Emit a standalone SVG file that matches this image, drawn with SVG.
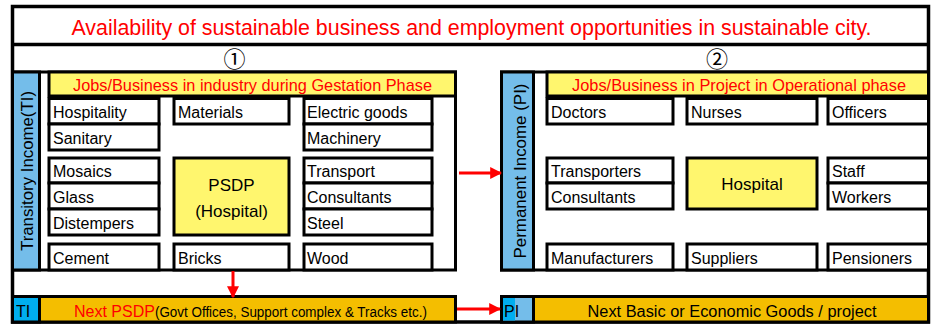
<svg xmlns="http://www.w3.org/2000/svg" width="933" height="327" viewBox="0 0 933 327">
  <defs>
    <style>
      text { font-family: "Liberation Sans", Arial, sans-serif; fill: #000; }
      .frame { fill: #fff; stroke: #000; stroke-width: 3.5; }
      .panel { fill: #fff; stroke: #000; stroke-width: 3; }
      .cell { fill: #fff; stroke: #000; stroke-width: 3; }
      .core { fill: #FFF66E; stroke: #000; stroke-width: 3; }
      .head { fill: #FFF66E; stroke: #000; stroke-width: 3; }
      .side { fill: #74BDEA; stroke: #000; stroke-width: 3; }
      .bar { fill: #F4BE00; stroke: #000; stroke-width: 3; }
      .tag { fill: #00AEEF; stroke: #000; stroke-width: 3; }
      .lbl { font-size: 16px; }
      .red { fill: #FF0000; }
      .num { font-family: "Noto Sans CJK JP", "DejaVu Sans", sans-serif; font-size: 22px; }
      .arrow { stroke: #FF0000; stroke-width: 3; fill: none; marker-end: url(#ah); }
    </style>
    <marker id="ah" viewBox="0 0 10 10" refX="9" refY="5" markerWidth="4" markerHeight="4" orient="auto" markerUnits="strokeWidth">
      <path d="M0,0 L10,5 L0,10 z" fill="#FF0000"/>
    </marker>
  </defs>

  <!-- outer frame and title band -->
  <g id="frame">
    <rect class="frame" x="12.5" y="6.5" width="916" height="315.5"/>
    <line x1="12.5" y1="44.5" x2="928.5" y2="44.5" stroke="#000" stroke-width="3.5"/>
    <text x="471.5" y="35" text-anchor="middle" font-size="22" class="red" textLength="800" lengthAdjust="spacingAndGlyphs">Availability of sustainable business and employment opportunities in sustainable city.</text>
    <text class="num" x="234.5" y="67" text-anchor="middle">①</text>
    <text class="num" x="717" y="67" text-anchor="middle">②</text>
  </g>

  <!-- gestation phase panel -->
  <g id="gestation">
    <rect class="panel" x="12.5" y="72" width="443" height="198"/>
    <rect class="side" x="12.5" y="72" width="27" height="198"/>
    <text class="lbl" transform="translate(33.3,171) rotate(-90)" text-anchor="middle" textLength="160" lengthAdjust="spacingAndGlyphs">Transitory Income(TI)</text>
    <rect class="head" x="49" y="72" width="406.5" height="24"/>
    <text x="252.5" y="91" font-size="17" class="red" text-anchor="middle" textLength="359" lengthAdjust="spacingAndGlyphs">Jobs/Business in industry during Gestation Phase</text>
  </g>

  <g id="g-hospitality"><rect class="cell" x="49" y="98.5" width="110" height="25.5"/><text class="lbl" x="53" y="118">Hospitality</text></g>
  <g id="g-sanitary"><rect class="cell" x="49" y="124" width="110" height="26"/><text class="lbl" x="53" y="144">Sanitary</text></g>
  <g id="g-materials"><rect class="cell" x="174" y="98.5" width="115" height="25.5"/><text class="lbl" x="178" y="118">Materials</text></g>
  <g id="g-electric"><rect class="cell" x="304" y="98.5" width="128" height="25.5"/><text class="lbl" x="307" y="118">Electric goods</text></g>
  <g id="g-machinery"><rect class="cell" x="304" y="124" width="128" height="26"/><text class="lbl" x="307" y="144">Machinery</text></g>

  <g id="g-mosaics"><rect class="cell" x="49" y="158" width="110" height="25"/><text class="lbl" x="53" y="177">Mosaics</text></g>
  <g id="g-glass"><rect class="cell" x="49" y="183" width="110" height="26"/><text class="lbl" x="53" y="203">Glass</text></g>
  <g id="g-distempers"><rect class="cell" x="49" y="209" width="110" height="26"/><text class="lbl" x="53" y="229">Distempers</text></g>
  <g id="g-psdp">
    <rect class="core" x="174" y="158" width="115" height="77"/>
    <text x="231.5" y="191" font-size="17" text-anchor="middle">PSDP</text>
    <text x="231.5" y="217" font-size="17" text-anchor="middle">(Hospital)</text>
  </g>
  <g id="g-transport"><rect class="cell" x="304" y="158" width="128" height="25"/><text class="lbl" x="307" y="177">Transport</text></g>
  <g id="g-consultants"><rect class="cell" x="304" y="183" width="128" height="26"/><text class="lbl" x="307" y="203">Consultants</text></g>
  <g id="g-steel"><rect class="cell" x="304" y="209" width="128" height="26"/><text class="lbl" x="307" y="229">Steel</text></g>

  <g id="g-cement"><rect class="cell" x="49" y="244" width="110" height="26"/><text class="lbl" x="53" y="264">Cement</text></g>
  <g id="g-bricks"><rect class="cell" x="174" y="244" width="115" height="26"/><text class="lbl" x="178" y="264">Bricks</text></g>
  <g id="g-wood"><rect class="cell" x="304" y="244" width="128" height="26"/><text class="lbl" x="307" y="264">Wood</text></g>

  <!-- operational phase panel -->
  <g id="operational">
    <rect class="panel" x="501.5" y="72" width="427" height="198"/>
    <rect class="side" x="501.5" y="72" width="32" height="198"/>
    <text class="lbl" transform="translate(526,171) rotate(-90)" text-anchor="middle" textLength="175" lengthAdjust="spacingAndGlyphs">Permanent Income (PI)</text>
    <rect class="head" x="547" y="72" width="381.5" height="24"/>
    <text x="739" y="91" font-size="17" class="red" text-anchor="middle" textLength="334" lengthAdjust="spacingAndGlyphs">Jobs/Business in Project in Operational phase</text>
  </g>

  <g id="o-doctors"><rect class="cell" x="547" y="98.5" width="126" height="25.5"/><text class="lbl" x="551" y="118">Doctors</text></g>
  <g id="o-nurses"><rect class="cell" x="687" y="98.5" width="130" height="25.5"/><text class="lbl" x="691" y="118">Nurses</text></g>
  <g id="o-officers"><rect class="cell" x="828" y="98.5" width="100.5" height="25.5"/><text class="lbl" x="832" y="118">Officers</text></g>

  <g id="o-transporters"><rect class="cell" x="547" y="158" width="126" height="25"/><text class="lbl" x="551" y="177">Transporters</text></g>
  <g id="o-consultants"><rect class="cell" x="547" y="183" width="126" height="26"/><text class="lbl" x="551" y="203">Consultants</text></g>
  <g id="o-hospital">
    <rect class="core" x="687" y="158" width="130" height="51"/>
    <text x="752" y="190" font-size="17" text-anchor="middle">Hospital</text>
  </g>
  <g id="o-staff"><rect class="cell" x="828" y="158" width="100.5" height="25"/><text class="lbl" x="832" y="177">Staff</text></g>
  <g id="o-workers"><rect class="cell" x="828" y="183" width="100.5" height="26"/><text class="lbl" x="832" y="203">Workers</text></g>

  <g id="o-manufacturers"><rect class="cell" x="547" y="244" width="126" height="26"/><text class="lbl" x="551" y="264">Manufacturers</text></g>
  <g id="o-suppliers"><rect class="cell" x="687" y="244" width="130" height="26"/><text class="lbl" x="691" y="264">Suppliers</text></g>
  <g id="o-pensioners"><rect class="cell" x="828" y="244" width="100.5" height="26"/><text class="lbl" x="832" y="264">Pensioners</text></g>

  <!-- next-stage bars -->
  <g id="next-psdp">
    <rect class="bar" x="12.5" y="296.5" width="443" height="25.5"/>
    <rect class="tag" x="12.5" y="296.5" width="27" height="25.5"/>
    <text class="lbl" x="16" y="317">TI</text>
    <text x="74" y="317"><tspan font-size="16" class="red">Next PSDP</tspan><tspan font-size="14" textLength="272" lengthAdjust="spacingAndGlyphs">(Govt Offices, Support complex &amp; Tracks etc.)</tspan></text>
  </g>
  <g id="next-goods">
    <rect class="bar" x="501.5" y="296.5" width="427" height="25.5"/>
    <rect class="side" x="501.5" y="296.5" width="32" height="25.5"/>
    <rect x="503" y="298" width="12" height="22.5" fill="#00AEEF"/>
    <text class="lbl" x="504" y="317">PI</text>
    <text class="lbl" x="732" y="317" text-anchor="middle" textLength="289" lengthAdjust="spacingAndGlyphs">Next Basic or Economic Goods / project</text>
  </g>

  <!-- connectors -->
  <g id="connectors">
    <line class="arrow" x1="459" y1="173" x2="501" y2="173"/>
    <line class="arrow" x1="233" y1="271" x2="233" y2="297"/>
    <line class="arrow" x1="457" y1="309" x2="500" y2="309"/>
  </g>
</svg>
